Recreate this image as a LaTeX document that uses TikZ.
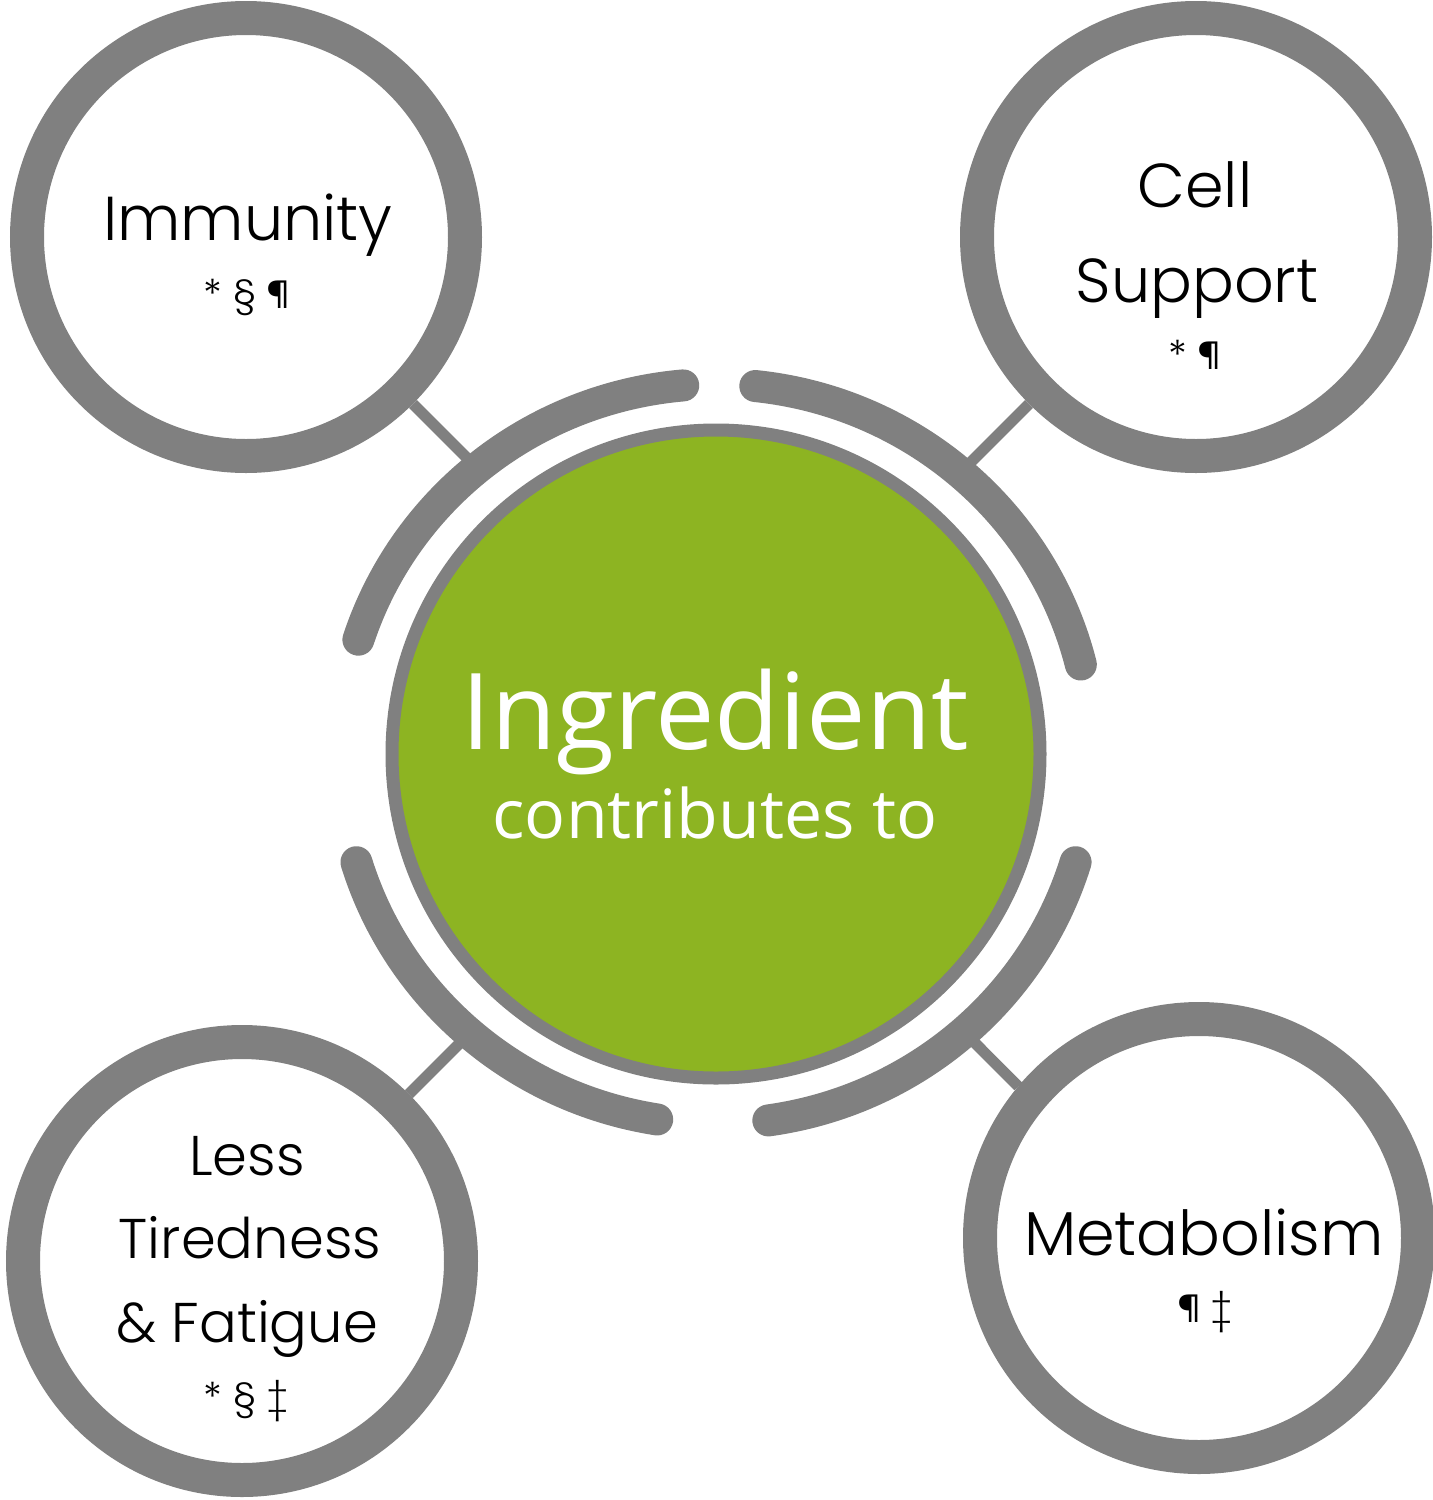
\documentclass[tikz,border=0pt]{standalone}
\usepackage{fontspec}
\newfontfamily\ctrfont{Open Sans}
\newfontfamily\lblfont{Poppins}[UprightFont={* Light}]
\definecolor{ringgray}{RGB}{128,128,128}
\definecolor{leaf}{RGB}{141,180,34}
\pgfdeclarelayer{bg}
\pgfsetlayers{bg,main}
\begin{document}
\begin{tikzpicture}[x=1pt,y=-1pt,
  outer/.style={circle, draw=ringgray, line width=34pt, fill=white, minimum size=438pt, inner sep=0pt},
  link/.style={draw=ringgray, line width=11pt},
  band/.style={draw=ringgray, line width=32pt, line cap=round},
  big/.style={anchor=base, inner sep=0pt, text=black, font=\lblfont\fontsize{62}{70}\selectfont},
  mid/.style={anchor=base, inner sep=0pt, text=black, font=\lblfont\fontsize{56}{64}\selectfont},
  sym/.style={anchor=base, inner sep=0pt, text=black, font=\lblfont\fontsize{40}{44}\selectfont},
]
\useasboundingbox (0,0) rectangle (1433,1500);

% outer circles
\node[outer] (imm) at (246,237) {};
\node[outer] (cell) at (1196,237) {};
\node[outer] (less) at (242,1261) {};
\node[outer] (met) at (1199,1238) {};

% central circle
\node[circle, fill=leaf, draw=ringgray, line width=13pt, minimum size=648pt, inner sep=0pt] (ctr) at (716,754) {};

% connector ends on the bands
\coordinate (eimm) at (475,466);
\coordinate (ecell) at (962,471);
\coordinate (eless) at (467,1036);
\coordinate (emet) at (966,1034);

\begin{pgfonlayer}{bg}
\fill[white] (0,0) rectangle (1433,1500);
\draw[link] (imm.-45) -- (eimm);
\draw[link] (cell.225) -- (ecell);
\draw[link] (less.45) -- (eless);
\draw[link] (met.140) -- (emet);
\end{pgfonlayer}

% bands round the centre
\draw[band] (716,754) ++(95:376pt and 370pt) arc[start angle=95, end angle=162, x radius=376pt, y radius=370pt];
\draw[band] (716,754) ++(84:376pt and 370pt) arc[start angle=84, end angle=14, x radius=376pt, y radius=370pt];
\draw[band] (716,754) ++(197:376pt and 370pt) arc[start angle=197, end angle=261, x radius=376pt, y radius=370pt];
\draw[band] (716,754) ++(278:376pt and 370pt) arc[start angle=278, end angle=343, x radius=376pt, y radius=370pt];

% centre text
\node[anchor=base, inner sep=0pt, text=white, font=\ctrfont\fontsize{106}{110}\selectfont] (t1) at (715,749) {Ingredient};
\node[anchor=base, inner sep=0pt, text=white, font=\ctrfont\fontsize{68}{72}\selectfont] (t2) at (715,838) {contributes to};

% labels
\node[big] (l1) at (248,240) {Immunity};
\node[sym] (s1) at (247,308) {* § ¶};

\node[big] (l2a) at (1195,207) {Cell};
\node[big] (l2b) at (1197,302) {Support};
\node[sym] (s2) at (1195,369) {* ¶};

\node[mid] (l3a) at (247,1175) {Less};
\node[mid] (l3b) at (250,1258) {Tiredness};
\node[mid] (l3c) at (247,1342) {\& Fatigue};
\node[sym] (s3) at (246,1411) {* § ‡};

\node[big] (l4) at (1204,1255) {Metabolism};
\node[sym] (s4) at (1205,1322) {¶ ‡};
\end{tikzpicture}
\end{document}
